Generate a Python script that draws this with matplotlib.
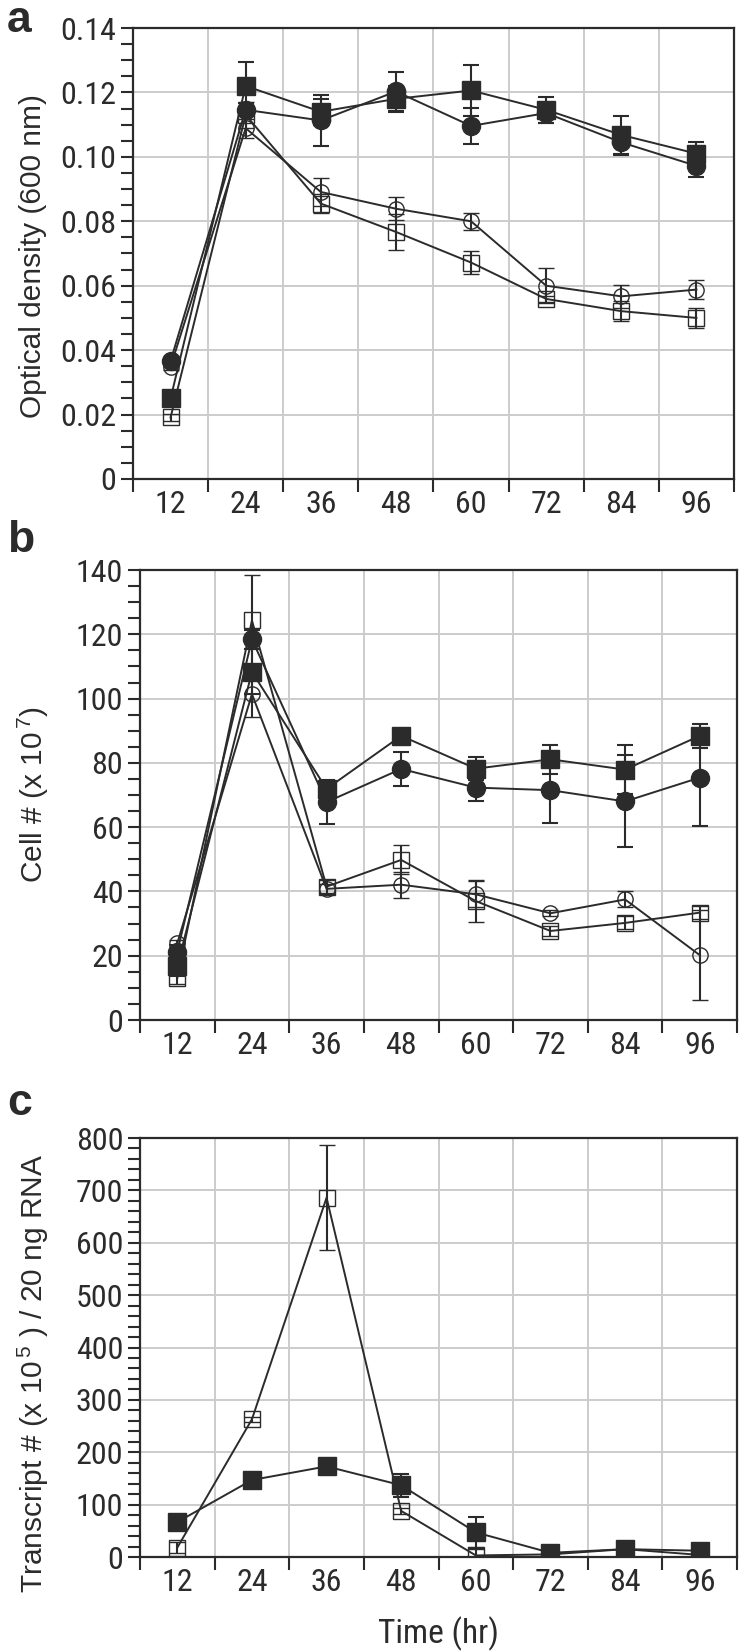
import matplotlib
matplotlib.use("Agg")
import matplotlib.pyplot as plt
from matplotlib import font_manager
from matplotlib.ticker import MultipleLocator

# time points (hr)
hours = [12, 24, 36, 48, 60, 72, 84, 96]

# panel a - optical density (600 nm)
od_fsq = [0.025, 0.122, 0.114, 0.118, 0.1206, 0.1146, 0.1068, 0.101]
od_fsq_err = [0.001, 0.0075, 0.004, 0.004, 0.008, 0.004, 0.006, 0.0035]
od_fci = [0.0366, 0.1146, 0.1113, 0.1203, 0.1096, 0.1136, 0.1045, 0.0972]
od_fci_err = [0.001, 0.002, 0.008, 0.006, 0.0057, 0.003, 0.004, 0.0035]
od_osq = [0.0191, 0.113, 0.0855, 0.0767, 0.0672, 0.0559, 0.0521, 0.050]
od_osq_err = [0.001, 0.004, 0.003, 0.0057, 0.0037, 0.001, 0.003, 0.003]
od_oci = [0.0348, 0.1089, 0.0891, 0.0839, 0.080, 0.060, 0.0567, 0.0588]
od_oci_err = [0.001, 0.003, 0.0044, 0.0036, 0.0027, 0.0055, 0.0036, 0.003]

# panel b - cell number (x 10^7)
cell_fsq = [16.7, 108.3, 71.9, 88.4, 78.2, 81.1, 77.9, 88.4]
cell_fsq_err = [3, 7, 2.8, 1.5, 3.5, 4.6, 7.6, 3.8]
cell_fci = [21.3, 118.4, 67.8, 78.1, 72.3, 71.5, 68.0, 75.4]
cell_fci_err = [2, 3, 6.7, 5.2, 4.3, 10.3, 14.3, 15]
cell_osq = [13.1, 124.3, 41.5, 49.8, 37.0, 27.7, 30.2, 33.4]
cell_osq_err = [2, 14, 2, 4.5, 6.4, 1.5, 2, 2]
cell_oci = [23.9, 101.4, 40.8, 42.1, 39.1, 33.2, 37.5, 20.2]
cell_oci_err = [1, 7, 1.5, 4, 4, 1, 2.5, 14]

# panel c - transcript number (x 10^5) / 20 ng RNA
tr_fsq = [66.7, 147, 173, 137, 47, 8, 15, 12]
tr_fsq_err = [5, 12, 8, 22, 30, 3, 3, 3]
tr_osq = [18, 263, 686, 88, 3, 5, 15, 4]
tr_osq_err = [10, 5, 100, 5, 12, 2, 2, 2]

ink = "#2b2b2b"
W, H = 749, 1651

# narrow sans for the numbers if one is around, plain Liberation Sans otherwise
names = set(f.name for f in font_manager.fontManager.ttflist)
narrow = 'Liberation Sans'
for cand in ['Liberation Sans Narrow', 'Arial Narrow', 'Roboto Condensed', 'Nimbus Sans Narrow']:
    if cand in names:
        narrow = cand
        break
tick_size = 23 if narrow != 'Liberation Sans' else 20

plt.rcParams['font.family'] = [narrow, 'Liberation Sans', 'DejaVu Sans']
plt.rcParams['mathtext.fontset'] = 'custom'
plt.rcParams['mathtext.rm'] = 'Liberation Sans'
plt.rcParams['mathtext.it'] = 'Liberation Sans'

fig = plt.figure(figsize=(W / 100, H / 100), dpi=100)


def rect(l, t, r, b):
    return [l / W, 1 - b / H, (r - l) / W, (b - t) / H]


def series(ax, y, err, marker, filled):
    if filled:
        kw = dict(marker=marker, markersize=12.5 if marker == 's' else 13,
                  markerfacecolor=ink, markeredgecolor=ink, zorder=4)
    else:
        kw = dict(marker=marker, markersize=11, markerfacecolor='none', markeredgecolor=ink,
                  markeredgewidth=1.0, zorder=3)
    ax.errorbar(hours, y, yerr=err, color=ink, lw=1.4, elinewidth=1.5, capsize=6, capthick=1.5,
                **kw)


def style(ax, ymax, ymajor, yminor, yfmt):
    ax.set_xlim(6, 102)
    ax.set_ylim(0, ymax)
    ax.set_xticks(range(6, 103, 12))
    ax.set_xticklabels([])
    ax.set_xticks(hours, minor=True)
    ax.set_xticklabels([str(h) for h in hours], minor=True)
    ax.tick_params(axis='x', which='major', direction='out', length=9, width=1.5, color=ink)
    ax.tick_params(axis='x', which='minor', length=0, pad=8, labelsize=tick_size, labelcolor=ink)
    ax.yaxis.set_major_locator(MultipleLocator(ymajor))
    ax.yaxis.set_minor_locator(MultipleLocator(yminor))
    ax.set_yticklabels([yfmt(v) for v in ax.get_yticks()])
    ax.tick_params(axis='y', which='both', direction='out', length=9, width=1.5, color=ink,
                   labelsize=tick_size, labelcolor=ink, pad=3)
    ax.grid(True, which='major', color='#cccccc', lw=1.4, zorder=0)
    ax.set_axisbelow(True)
    for s in ax.spines.values():
        s.set_color(ink)
        s.set_linewidth(1.6)


# panel a
ax1 = fig.add_axes(rect(133, 28, 734, 479))
series(ax1, od_oci, od_oci_err, 'o', False)
series(ax1, od_osq, od_osq_err, 's', False)
series(ax1, od_fci, od_fci_err, 'o', True)
series(ax1, od_fsq, od_fsq_err, 's', True)
style(ax1, 0.14, 0.02, 0.005, lambda v: '0' if v == 0 else '%.2f' % v)

# panel b
ax2 = fig.add_axes(rect(140, 570, 737, 1020))
series(ax2, cell_oci, cell_oci_err, 'o', False)
series(ax2, cell_osq, cell_osq_err, 's', False)
series(ax2, cell_fci, cell_fci_err, 'o', True)
series(ax2, cell_fsq, cell_fsq_err, 's', True)
style(ax2, 140, 20, 5, lambda v: '%d' % v)

# panel c
ax3 = fig.add_axes(rect(140, 1138, 737, 1557))
series(ax3, tr_osq, tr_osq_err, 's', False)
series(ax3, tr_fsq, tr_fsq_err, 's', True)
style(ax3, 800, 100, 20, lambda v: '%d' % v)

lab = dict(family=['Liberation Sans', 'DejaVu Sans'], fontsize=21.5, color=ink,
           rotation=90, ha='center', va='center')
fig.text(33 / W, 1 - 256 / H, 'Optical density (600 nm)', **lab)
fig.text(33 / W, 1 - 795 / H, 'Cell # (x 10$^{\\,7}$)', **lab)
fig.text(33 / W, 1 - 1373 / H, 'Transcript # (x 10$^{\\,5}$ ) / 20 ng RNA', **lab)
fig.text(438 / W, 1 - 1634 / H, 'Time (hr)', fontsize=tick_size + 1, color=ink,
         ha='center', va='center')

pan = dict(family=['Liberation Sans', 'DejaVu Sans'], fontsize=32, fontweight='bold',
           color=ink, ha='left', va='center')
fig.text(7 / W, 1 - 20 / H, 'a', **pan)
fig.text(7 / W, 1 - 541 / H, 'b', **pan)
fig.text(7 / W, 1 - 1103 / H, 'c', **pan)

fig.savefig('out.png', dpi=100)
